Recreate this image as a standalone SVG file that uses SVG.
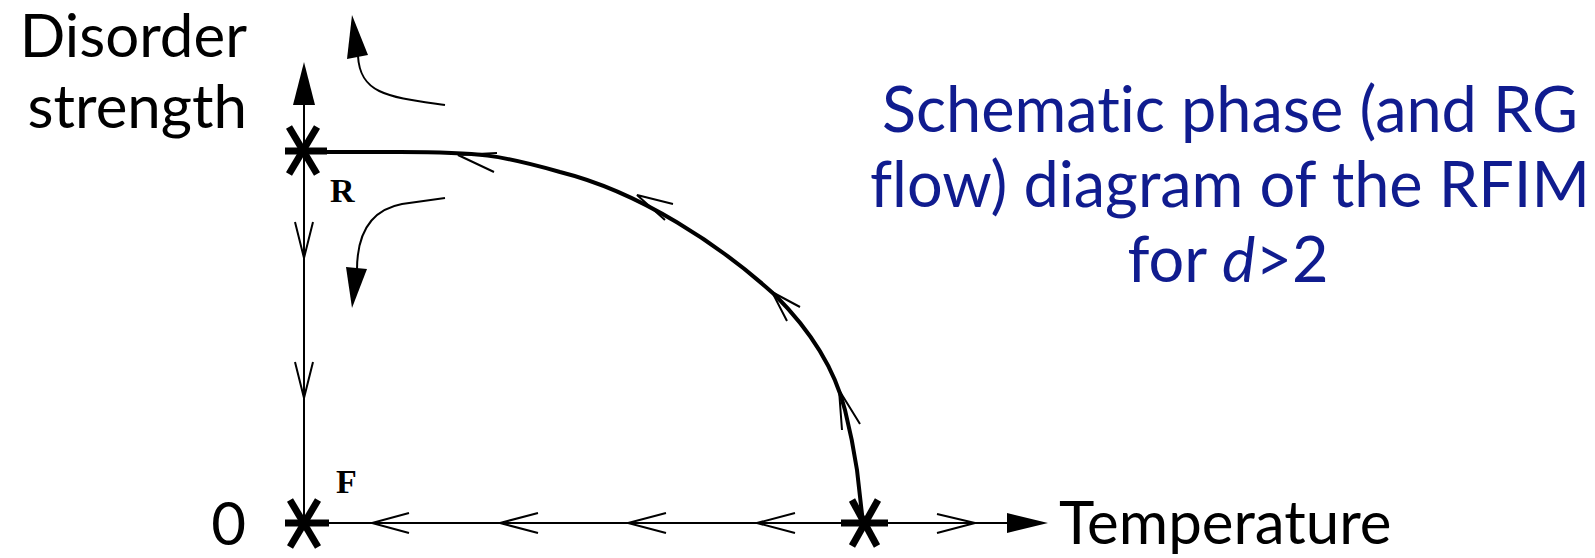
<svg xmlns="http://www.w3.org/2000/svg" width="1595" height="558" viewBox="0 0 1595 558">
<style>
.thin{fill:none;stroke:#000;stroke-width:2}
.thick{fill:none;stroke:#000;stroke-width:4}
.star{fill:none;stroke:#000;stroke-width:7}
.head{fill:#000;stroke:none}
.lab{font-family:Lato,"Open Sans",sans-serif;font-size:60px;fill:#000;font-variant-ligatures:none}
.pt{font-family:"Liberation Serif",serif;font-weight:bold;font-size:34px;fill:#000}
.title{font-family:Lato,"Open Sans",sans-serif;font-size:63px;fill:#101c8f;text-anchor:middle;font-variant-ligatures:none}
</style>
<rect width="1595" height="558" fill="#fff"/>
<g id="connectors">
  <!-- vertical axis -->
  <line class="thin" x1="304" y1="100" x2="304" y2="523"/>
  <polygon class="head" points="304,62 315,105 293,105"/>
  <polyline class="thin" points="295,222 304,258 313,222"/>
  <polyline class="thin" points="295,362 304,398 313,362"/>
  <!-- horizontal axis -->
  <line class="thin" x1="304" y1="523" x2="1010" y2="523"/>
  <polygon class="head" points="1048,523 1007,513 1007,533"/>
  <polyline class="thin" points="409,513 372,523 409,533"/>
  <polyline class="thin" points="538,513 500,523 538,533"/>
  <polyline class="thin" points="666,513 628,523 666,533"/>
  <polyline class="thin" points="795,513 757,523 795,533"/>
  <polyline class="thin" points="937,514 975,523 937,533"/>
  <!-- separatrix curve -->
  <path class="thick" d="M327,152 L400,152 C480,152 500,155 560,172 C640,192 720,245 775,295 C810,330 835,370 845,410 C850,430 854,450 857,470 L863,523"/>
  <polyline class="thin" points="497,153 458,155 494,172"/>
  <polyline class="thin" points="673,204 637,195 665,220"/>
  <polyline class="thin" points="800,307 772,292 787,321"/>
  <polyline class="thin" points="860,424 839,390 842,430"/>
  <!-- curved flow arrows near R -->
  <path class="thin" d="M445,105 C390,97 360,95 358,56"/>
  <polygon class="head" points="352,15 368,55 347,59"/>
  <path class="thin" d="M445,198 L402,204 C370,210 357,235 357,270"/>
  <polygon class="head" points="346,267 367,269 352,308"/>
</g>
<g id="node-R">
  <line class="star" x1="285" y1="151" x2="327" y2="151"/>
  <line class="star" x1="289" y1="127" x2="317" y2="174"/>
  <line class="star" x1="317" y1="127" x2="289" y2="174"/>
  <text class="pt" x="330" y="202">R</text>
</g>
<g id="node-F">
  <line class="star" x1="285" y1="523" x2="329" y2="523"/>
  <line class="star" x1="290" y1="500" x2="318" y2="547"/>
  <line class="star" x1="318" y1="500" x2="290" y2="547"/>
  <text class="pt" x="336" y="493">F</text>
</g>
<g id="node-T">
  <line class="star" x1="841" y1="523" x2="888" y2="523"/>
  <line class="star" x1="852" y1="500" x2="877" y2="546"/>
  <line class="star" x1="878" y1="500" x2="852" y2="546"/>
</g>
<g id="axis-labels">
  <text class="lab" x="247" y="57" text-anchor="end">Disorder</text>
  <text class="lab" x="247" y="128" text-anchor="end">strength</text>
  <text class="lab" x="246" y="545" text-anchor="end">0</text>
  <text class="lab" x="1059" y="544">Temperature</text>
</g>
<g id="title">
  <text class="title" x="1230" y="132">Schematic phase (and RG</text>
  <text class="title" x="1230" y="207">flow) diagram of the RFIM</text>
  <text class="title" x="1228" y="282">for <tspan font-style="italic">d</tspan>&gt;2</text>
</g>
</svg>
